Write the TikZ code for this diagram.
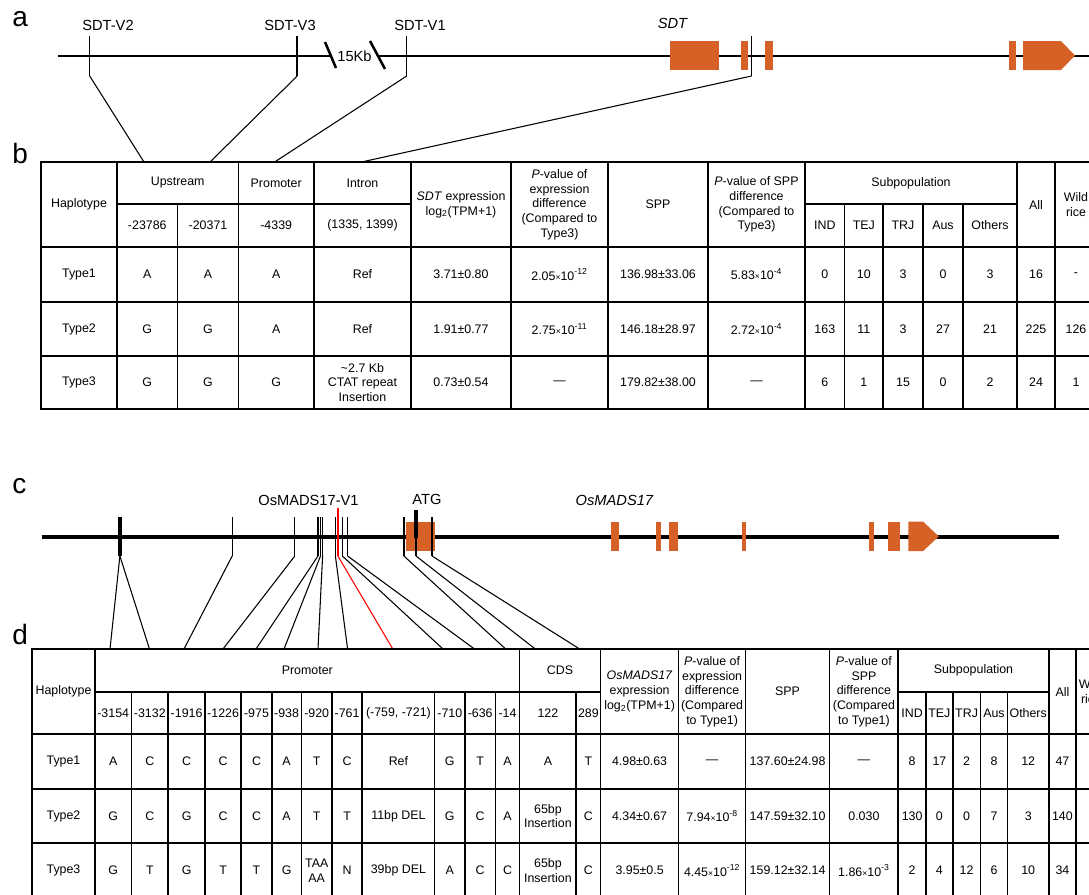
\documentclass[tikz,border=0pt]{standalone}
\usepackage{fontspec}
\setmainfont{Liberation Sans}
\usepackage{tikz}
\usetikzlibrary{positioning}

\definecolor{exon}{RGB}{214,97,39}
\newcommand{\tabtext}{\fontsize{9.3}{11}\selectfont}
\newcommand{\lbltext}{\fontsize{11}{13}\selectfont}
\newcommand{\paneltext}{\fontsize{21}{24}\selectfont}
\newcommand{\pval}[2]{#1{\fontsize{6.5}{7}\selectfont\texttimes}10\textsuperscript{#2}}
\def\bcol{{79,147.3,208,276.2,362.5,461,559.5,658,756.5,824.8,863.8,903,943,990,1036,1076}}
\def\dcol{{63.5,113.2,149.8,186.6,223.1,256.5,286.6,316.7,347.1,398.4,449.8,480.2,507.5,547.9,588.4,639.6,712.1,787.6,863.9,912.1,939.4,966.6,994,1028.2,1062.4,1091}}

\begin{document}
\begin{tikzpicture}[x=0.75pt,y=-0.75pt,
    cell/.style={font=\tabtext,align=center,inner sep=0pt},
    grid/.style={line width=1.2pt},
    chrom/.style={line width=#1},
    tick/.style={line width=1pt},
    link/.style={line width=0.8pt},
    lbl/.style={font=\lbltext,inner sep=0pt},
    panel/.style={font=\paneltext,inner sep=0pt,anchor=base west}]
  \useasboundingbox (0,0) rectangle (1089,894);
  \clip (0,0) rectangle (1089,894);

  \node[panel] (pa) at (12,26) {a};
  \node[panel] (pb) at (12,163) {b};
  \node[panel] (pc) at (12,493) {c};
  \node[panel] (pd) at (12,644) {d};

  % panel a: SDT locus
  \draw[chrom=2.2pt] (58,56) -- (330,56) (378,56) -- (1095,56);
  \draw[line width=1.9pt] (325,42) -- (336,68) (370,41) -- (385,69);
  \node[lbl] (kb) at (354.5,56) {15Kb};
  \fill[exon] (669.6,41) rectangle (718.5,70);
  \foreach \i\j in {741/748, 765.3/772.6, 1009.3/1016.2}
    {\fill[exon] (\i,41) rectangle (\j,70);}
  \fill[exon] (1023,41) -- (1061,41) -- (1075,55.5) -- (1061,70) -- (1023,70) -- cycle;
  \node[lbl,font=\lbltext\itshape] (sdt) at (672.5,23) {SDT};
  \node[lbl] (v2) at (108,25) {SDT-V2};
  \node[lbl] (v3) at (290,25) {SDT-V3};
  \node[lbl] (v1) at (420,25) {SDT-V1};
  \foreach \n/\xa/\xb in {1/89.7/144, 2/297.2/210, 3/406.7/274.6, 4/751.5/361.5}
  {
    \coordinate (av\n) at (\xa,76);
    \coordinate (bt\n) at (\xb,162);
    \draw[line width=1.1pt] (\xa,36) -- (av\n);
    \draw[link] (av\n) -- (bt\n);
  }

  % panel b: table
  \draw[grid] (41,162) rectangle (1097,409);
  \foreach \y in {247,302,356} \draw[grid] (41,\y) -- (1097,\y);
  \draw[grid] (117,204) -- (411,204) (805,204) -- (1017,204);
  \foreach \x in {117,238.4,313.9,411,511,608,708,805,1017,1055}
    \draw[grid] (\x,162) -- (\x,409);
  \foreach \x in {177.6,844.5,883,923,963}
    \draw[grid] (\x,204) -- (\x,409);

  \node[cell] (bh0) at (79,204.5) {Haplotype};
  \node[cell] (bh1) at (177.7,183) {Upstream};
  \node[cell] (bh3) at (276.2,183) {Promoter};
  \node[cell] (bh4) at (362.5,183) {Intron};
  \node[cell] (bh5) at (461,204.5) {\textit{SDT} expression\\log\textsubscript{2}(TPM+1)};
  \node[cell] (bh6) at (559.5,204.5) {\textit{P}-value of\\expression\\difference\\(Compared to\\Type3)};
  \node[cell] (bh7) at (658,204.5) {SPP};
  \node[cell] (bh8) at (756.5,204.5) {\textit{P}-value of SPP\\difference\\(Compared to\\Type3)};
  \node[cell] (bh9) at (911,183) {Subpopulation};
  \node[cell] (bh14) at (1036,204.5) {All};
  \node[cell] (bh15) at (1076,204.5) {Wild\\rice};
  \foreach \t [count=\i] in {-23786,-20371,-4339,{(1335, 1399)}}
    {\pgfmathsetmacro\cx{\bcol[\i]}\node[cell] (bs\i) at (\cx,225.5) {\t};}
  \foreach \t [count=\i from 9] in {IND,TEJ,TRJ,Aus,Others}
    {\pgfmathsetmacro\cx{\bcol[\i]}\node[cell] (bs\i) at (\cx,225.5) {\t};}

  \foreach \t [count=\i from 0] in {Type1,A,A,A,Ref,3.71±0.80,\pval{2.05}{-12},136.98±33.06,\pval{5.83}{-4},0,10,3,0,3,16,-}
    {\pgfmathsetmacro\cx{\bcol[\i]}\node[cell] (ba\i) at (\cx,274.5) {\t};}
  \foreach \t [count=\i from 0] in {Type2,G,G,A,Ref,1.91±0.77,\pval{2.75}{-11},146.18±28.97,\pval{2.72}{-4},163,11,3,27,21,225,126}
    {\pgfmathsetmacro\cx{\bcol[\i]}\node[cell] (bb\i) at (\cx,329) {\t};}
  \foreach \t [count=\i from 0] in {Type3,G,G,G,{\textasciitilde2.7 Kb\\CTAT repeat\\Insertion},0.73±0.54,—,179.82±38.00,—,6,1,15,0,2,24,1}
    {\pgfmathsetmacro\cx{\bcol[\i]}\node[cell] (bc\i) at (\cx,382.5) {\t};}

  % panel c: OsMADS17 locus
  \draw[chrom=3pt] (41.7,536.7) -- (1058.5,536.7);
  \fill[exon] (406,521.7) rectangle (434.5,551);
  \foreach \i\j in {610.9/618.9, 656/661.2, 669.2/677.9, 741.7/746.2, 868.7/873.9, 887.5/899.6}
    {\fill[exon] (\i,521.7) rectangle (\j,551);}
  \fill[exon] (908.3,521.7) -- (923.2,521.7) -- (938.8,536.4) -- (923.2,551) -- (908.3,551) -- cycle;
  \node[lbl,font=\lbltext\itshape] (mads) at (614.4,500) {OsMADS17};
  \node[lbl] (mv1) at (308.5,500.5) {OsMADS17-V1};
  \node[lbl] (atg) at (427,499) {ATG};
  \draw[line width=3pt] (119.9,517) -- (119.9,556);
  \draw[line width=3pt] (416,510) -- (416,538);
  \foreach \x in {232.2,294.8,318,320.5,322.6,335.4,342.4,347.6,403.9,416,432}
    \draw[tick] (\x,517) -- (\x,556);
  \draw[tick] (416,510) -- (416,517);
  \draw[tick,red] (337.9,507.7) -- (337.9,556);
  \foreach \n/\xa/\xb in {1/119.9/110, 2/119.9/149.5, 3/232.2/184, 4/294.8/223, 5/318/256,
      6/320.5/284, 7/322.6/318, 8/335.4/347.6, 10/342.4/443, 11/347.6/474.5,
      12/403.9/505.7, 13/416/535.3, 14/432/579.7}
  {
    \coordinate (cv\n) at (\xa,556);
    \coordinate (dt\n) at (\xb,649);
    \draw[link] (cv\n) -- (dt\n);
  }
  \coordinate (cv9) at (337.9,556);
  \coordinate (dt9) at (392.8,649);
  \draw[link,red] (cv9) -- (dt9);

  % panel d: table
  \draw[grid] (32,649) rectangle (1106,898);
  \foreach \y in {734,789,843} \draw[grid] (32,\y) -- (1106,\y);
  \draw[grid] (94.9,692) -- (600.5,692) (898.2,692) -- (1048.8,692);
  \foreach \x in {94.9,519.6,600.5,678.6,745.6,829.5,898.2,1048.8,1075.9}
    \draw[grid] (\x,649) -- (\x,898);
  \foreach \x in {131.4,168.2,205,241.2,271.8,301.4,332,362.2,434.5,465,495.3,576.2,926,952.7,980.5,1007.5}
    \draw[grid] (\x,692) -- (\x,898);

  \node[cell] (dh0) at (63.5,691.5) {Haplotype};
  \node[cell] (dh1) at (307.3,670.5) {Promoter};
  \node[cell] (dh13) at (560,670.5) {CDS};
  \node[cell] (dh15) at (639.6,691.5) {\textit{OsMADS17}\\expression\\log\textsubscript{2}(TPM+1)};
  \node[cell] (dh16) at (712.1,691.5) {\textit{P}-value of\\expression\\difference\\(Compared\\to Type1)};
  \node[cell] (dh17) at (787.6,691.5) {SPP};
  \node[cell] (dh18) at (863.9,691.5) {\textit{P}-value of\\SPP\\difference\\(Compared\\to Type1)};
  \node[cell] (dh19) at (973.5,670.5) {Subpopulation};
  \node[cell] (dh24) at (1062.4,691.5) {All};
  \node[cell] (dh25) at (1091,691.5) {Wild\\rice};
  \foreach \t [count=\i] in {-3154,-3132,-1916,-1226,-975,-938,-920,-761,{(-759, -721)},-710,-636,-14,122,289}
    {\pgfmathsetmacro\cx{\dcol[\i]}\node[cell] (ds\i) at (\cx,713) {\t};}
  \foreach \t [count=\i from 19] in {IND,TEJ,TRJ,Aus,Others}
    {\pgfmathsetmacro\cx{\dcol[\i]}\node[cell] (ds\i) at (\cx,713) {\t};}

  \foreach \t [count=\i from 0] in {Type1,A,C,C,C,C,A,T,C,Ref,G,T,A,A,T,4.98±0.63,—,137.60±24.98,—,8,17,2,8,12,47}
    {\pgfmathsetmacro\cx{\dcol[\i]}\node[cell] (da\i) at (\cx,761.5) {\t};}
  \foreach \t [count=\i from 0] in {Type2,G,C,G,C,C,A,T,T,11bp DEL,G,C,A,{65bp\\Insertion},C,4.34±0.67,\pval{7.94}{-8},147.59±32.10,0.030,130,0,0,7,3,140}
    {\pgfmathsetmacro\cx{\dcol[\i]}\node[cell] (db\i) at (\cx,816) {\t};}
  \foreach \t [count=\i from 0] in {Type3,G,T,G,T,T,G,{TAA\\AA},N,39bp DEL,A,C,C,{65bp\\Insertion},C,3.95±0.5,\pval{4.45}{-12},159.12±32.14,\pval{1.86}{-3},2,4,12,6,10,34}
    {\pgfmathsetmacro\cx{\dcol[\i]}\node[cell] (dc\i) at (\cx,870.5) {\t};}
\end{tikzpicture}
\end{document}
